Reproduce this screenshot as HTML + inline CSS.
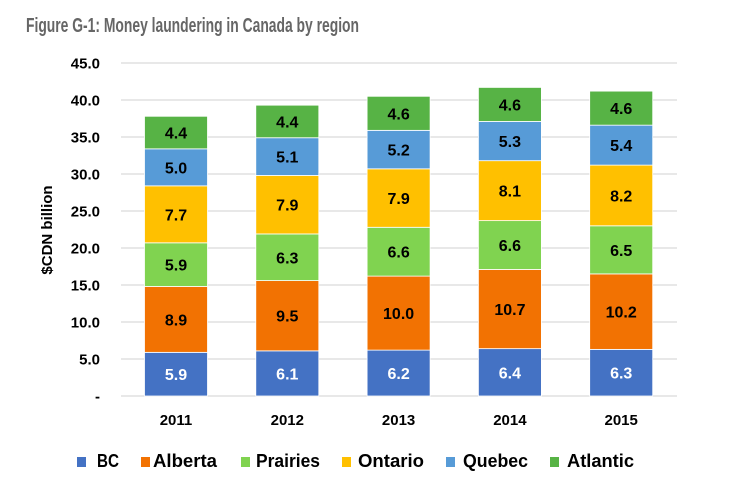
<!DOCTYPE html>
<html><head><meta charset="utf-8"><style>
html,body{margin:0;padding:0;background:#fff;}
svg{display:block;font-family:"Liberation Sans",Arial,sans-serif;}
</style></head><body>
<svg id="c" width="755" height="487" viewBox="0 0 755 487" xmlns="http://www.w3.org/2000/svg">
<text x="26" y="32" font-family="'Liberation Sans Narrow','Liberation Sans',sans-serif" font-weight="bold" font-size="20" fill="#666" textLength="333" lengthAdjust="spacingAndGlyphs">Figure G-1: Money laundering in Canada by region</text>
<text transform="translate(52,230) rotate(-90)" text-anchor="middle" font-weight="bold" font-size="15" fill="#000">$CDN  billion</text>
<g id="g"></g>
</svg>
<script>
var s='',y=function(v){return 396-7.4*v;};
for(var i=0;i<=9;i++){var v=i*5,yy=y(v);
 s+='<line x1="121" x2="677" y1="'+yy+'" y2="'+yy+'" stroke="#d9d9d9" stroke-width="1.3"/>';
 s+='<text x="100" y="'+(yy+5.5)+'" text-anchor="end" font-weight="bold" font-size="15">'+(i?v.toFixed(1):'-')+'</text>';}
var cols=['#4472C4','#F27202','#80D350','#FFC000','#579BD7','#57B345'];
var d=[[5.9,8.9,5.9,7.7,5.0,4.4],[6.1,9.5,6.3,7.9,5.1,4.4],[6.2,10.0,6.6,7.9,5.2,4.6],[6.4,10.7,6.6,8.1,5.3,4.6],[6.3,10.2,6.5,8.2,5.4,4.6]];
var yrs=['2011','2012','2013','2014','2015'];
for(var j=0;j<5;j++){var cx=176+111.3*j,c=0;
 for(var k=0;k<6;k++){var a=y(c),b=y(c+d[j][k]);c+=d[j][k];
  s+='<rect x="'+(cx-31.5)+'" y="'+b+'" width="63" height="'+(a-b)+'" fill="'+cols[k]+'" stroke="#fff" stroke-width="0.8"/>';
  s+='<text x="'+cx+'" y="'+((a+b)/2+6)+'" text-anchor="middle" font-weight="bold" font-size="16" fill="'+(k?'#000':'#fff')+'">'+d[j][k].toFixed(1)+'</text>';}
 s+='<text x="'+cx+'" y="425" text-anchor="middle" font-weight="bold" font-size="15">'+yrs[j]+'</text>';}
var L=[['BC',77,97,22],['Alberta',141,153,64],['Prairies',241,256,64],['Ontario',342,358,66],['Quebec',446,463,65],['Atlantic',550,567,67]];
for(var k=0;k<6;k++){s+='<rect x="'+L[k][1]+'" y="457" width="9" height="10" fill="'+cols[k]+'"/>';
 s+='<text x="'+L[k][2]+'" y="467" font-weight="bold" font-size="18" textLength="'+L[k][3]+'" lengthAdjust="spacingAndGlyphs">'+L[k][0]+'</text>';}
document.getElementById('g').innerHTML=s;
</script>
</body></html>
